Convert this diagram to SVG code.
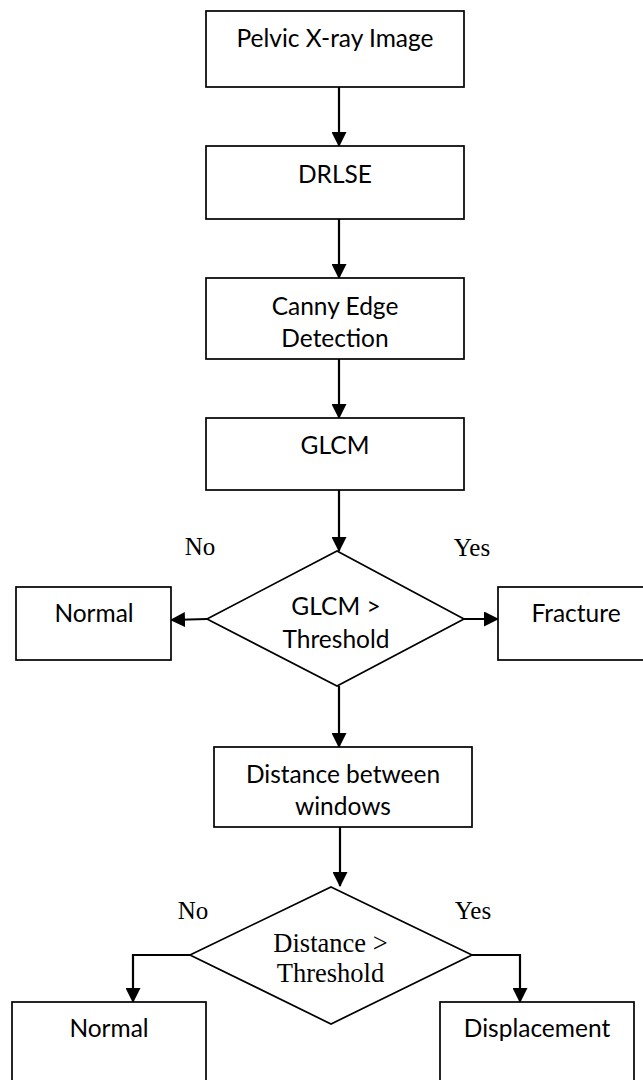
<svg xmlns="http://www.w3.org/2000/svg" width="643" height="1080" viewBox="0 0 643 1080">
<defs>
<marker id="ah" markerWidth="15" markerHeight="15" viewBox="0 0 15 15" refX="14" refY="7.5" orient="auto" markerUnits="userSpaceOnUse">
<path d="M0,0 L15,7.5 L0,15 Z" fill="#000"/>
</marker>
<style>
.box{fill:#fff;stroke:#000;stroke-width:1.7}
.t{font-family:Lato,"Open Sans","Liberation Sans",sans-serif;font-size:24.5px;fill:#000;text-anchor:middle}
.s{font-family:"Liberation Serif","Times New Roman",serif;font-size:25px;fill:#000;text-anchor:middle}
.s2{font-family:"Liberation Serif","Times New Roman",serif;font-size:26.5px;fill:#000;text-anchor:middle}
.c{fill:none;stroke:#000;stroke-width:2.2}
</style>
</defs>
<rect width="643" height="1080" fill="#fff"/>
<g id="connectors">
<line class="c" x1="339" y1="87" x2="339" y2="146" marker-end="url(#ah)"/>
<line class="c" x1="339" y1="219" x2="339" y2="278" marker-end="url(#ah)"/>
<line class="c" x1="339" y1="359" x2="339" y2="418" marker-end="url(#ah)"/>
<line class="c" x1="339" y1="490" x2="339" y2="551" marker-end="url(#ah)"/>
<line class="c" x1="207" y1="619" x2="171" y2="620" marker-end="url(#ah)"/>
<line class="c" x1="464" y1="619" x2="498" y2="619" marker-end="url(#ah)"/>
<line class="c" x1="339" y1="686" x2="339" y2="747" marker-end="url(#ah)"/>
<line class="c" x1="340" y1="827" x2="340" y2="886" marker-end="url(#ah)"/>
<polyline class="c" points="190,955 133,955 133,1002" marker-end="url(#ah)"/>
<polyline class="c" points="472,955 520,955 520,1002" marker-end="url(#ah)"/>
</g>
<g id="n1"><rect class="box" x="206" y="11" width="258" height="76"/><text class="t" x="335" y="47">Pelvic X-ray Image</text></g>
<g id="n2"><rect class="box" x="206" y="146" width="258" height="73"/><text class="t" x="335" y="183">DRLSE</text></g>
<g id="n3"><rect class="box" x="206" y="278" width="258" height="81"/><text class="t" x="335" y="315">Canny Edge</text><text class="t" x="335" y="347">Detection</text></g>
<g id="n4"><rect class="box" x="206" y="418" width="258" height="72"/><text class="t" x="335" y="454">GLCM</text></g>
<g id="d1"><polygon class="box" points="337,551 464,619 337,686 207,619"/><text class="t" x="336" y="615">GLCM &gt;</text><text class="t" x="336" y="648">Threshold</text></g>
<g id="l1"><text class="s" x="200" y="555">No</text><text class="s" x="472" y="556">Yes</text></g>
<g id="n5"><rect class="box" x="16" y="587" width="155" height="73"/><text class="t" x="94" y="622">Normal</text></g>
<g id="n6"><rect class="box" x="498" y="587" width="157" height="73"/><text class="t" x="576" y="622">Fracture</text></g>
<g id="n7"><rect class="box" x="214" y="747" width="258" height="80"/><text class="t" x="343" y="783">Distance between</text><text class="t" x="343" y="815">windows</text></g>
<g id="d2"><polygon class="box" points="331,887 472,955 331,1024 190,955"/><text class="s2" x="330.5" y="952">Distance &gt;</text><text class="s2" x="330.5" y="982">Threshold</text></g>
<g id="l2"><text class="s" x="193" y="919">No</text><text class="s" x="473" y="919">Yes</text></g>
<g id="n8"><rect class="box" x="12" y="1002" width="194" height="100"/><text class="t" x="109" y="1037">Normal</text></g>
<g id="n9"><rect class="box" x="440" y="1002" width="194" height="100"/><text class="t" x="537" y="1037">Displacement</text></g>
</svg>
